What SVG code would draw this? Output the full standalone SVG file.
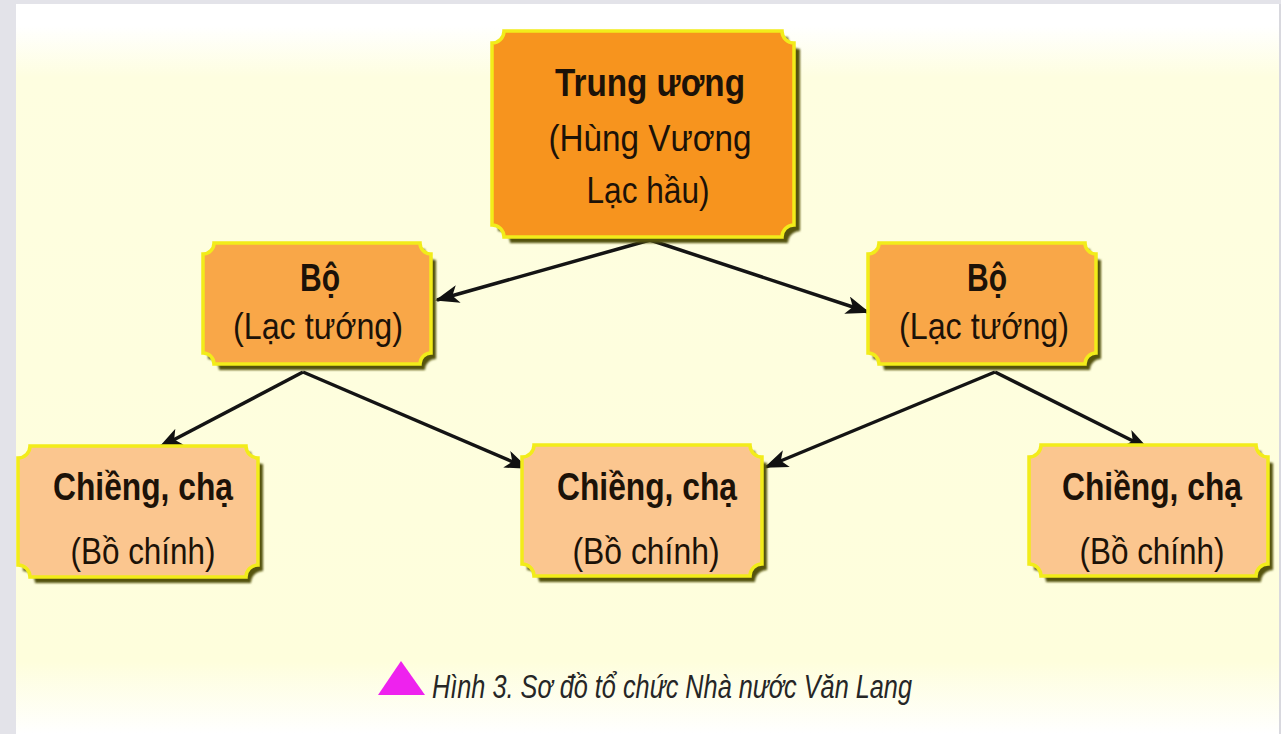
<svg xmlns="http://www.w3.org/2000/svg" width="1281" height="734" viewBox="0 0 1281 734">
<defs>
<linearGradient id="panel" x1="0" y1="0" x2="0" y2="1">
<stop offset="0" stop-color="#ffffff"/>
<stop offset="0.03" stop-color="#ffffff"/>
<stop offset="0.1" stop-color="#fefee0"/>
<stop offset="0.9" stop-color="#fefedc"/>
<stop offset="1" stop-color="#ffffff"/>
</linearGradient>
<filter id="soft" x="-5%" y="-5%" width="110%" height="110%">
<feGaussianBlur stdDeviation="1.2"/>
</filter>
<marker id="arr" markerUnits="userSpaceOnUse" markerWidth="25" markerHeight="18" refX="22" refY="9" orient="auto">
<path d="M0,0 L24,9 L0,18 L6,9 Z" fill="#111"/>
</marker>
</defs>
<style>
.shadow{fill:#55520e;filter:url(#soft)}
.frame{stroke:#f2ec1a;stroke-width:3.5}
.top{fill:#f7941e}
.mid{fill:#f9a748}
.low{fill:#fbc68f}
.t{font-family:"Liberation Sans",Arial,sans-serif;font-size:37px;fill:#1c1208;text-anchor:middle}
.b{font-weight:bold;font-size:38px}
.conn{stroke:#141414;stroke-width:3.5;fill:none;marker-end:url(#arr)}
.cap{font-family:"Liberation Sans",Arial,sans-serif;font-style:italic;font-size:34px;fill:#262626}
</style>
<rect x="0" y="0" width="1281" height="734" fill="#e3e3e9"/>
<rect x="16" y="4" width="1263" height="730" fill="url(#panel)"/>
<rect x="1279" y="4" width="2" height="730" fill="#d8d8de"/>

<g id="connectors">
<line class="conn" x1="650" y1="240" x2="437" y2="300"/>
<line class="conn" x1="650" y1="240" x2="868" y2="312"/>
<line class="conn" x1="303" y1="372" x2="160" y2="447"/>
<line class="conn" x1="303" y1="372" x2="527" y2="468"/>
<line class="conn" x1="995" y1="372" x2="766" y2="467"/>
<line class="conn" x1="995" y1="372" x2="1147" y2="448"/>
</g>

<g id="node-trung-uong">
<path class="shadow" transform="translate(6,6)" d="M504,31 H782 A12 12 0 0 0 794,43 V225 A12 12 0 0 0 782,237 H504 A12 12 0 0 0 492,225 V43 A12 12 0 0 0 504,31 Z"/>
<path class="frame top" d="M504,31 H782 A12 12 0 0 0 794,43 V225 A12 12 0 0 0 782,237 H504 A12 12 0 0 0 492,225 V43 A12 12 0 0 0 504,31 Z"/>
<text class="t b" x="650" y="96" textLength="190" lengthAdjust="spacingAndGlyphs">Trung ương</text>
<text class="t" x="650" y="151" textLength="203" lengthAdjust="spacingAndGlyphs">(Hùng Vương</text>
<text class="t" x="648" y="203" textLength="123" lengthAdjust="spacingAndGlyphs">Lạc hầu)</text>
</g>

<g id="node-bo-left">
<path class="shadow" transform="translate(5,6)" d="M214,243 H420 A11 11 0 0 0 431,254 V353 A11 11 0 0 0 420,364 H214 A11 11 0 0 0 203,353 V254 A11 11 0 0 0 214,243 Z"/>
<path class="frame mid" d="M214,243 H420 A11 11 0 0 0 431,254 V353 A11 11 0 0 0 420,364 H214 A11 11 0 0 0 203,353 V254 A11 11 0 0 0 214,243 Z"/>
<text class="t b" x="320" y="291" textLength="40" lengthAdjust="spacingAndGlyphs">Bộ</text>
<text class="t" x="318" y="339" textLength="170" lengthAdjust="spacingAndGlyphs">(Lạc tướng)</text>
</g>

<g id="node-bo-right">
<path class="shadow" transform="translate(5,6)" d="M879,243 H1085 A11 11 0 0 0 1096,254 V353 A11 11 0 0 0 1085,364 H879 A11 11 0 0 0 868,353 V254 A11 11 0 0 0 879,243 Z"/>
<path class="frame mid" d="M879,243 H1085 A11 11 0 0 0 1096,254 V353 A11 11 0 0 0 1085,364 H879 A11 11 0 0 0 868,353 V254 A11 11 0 0 0 879,243 Z"/>
<text class="t b" x="987" y="291" textLength="40" lengthAdjust="spacingAndGlyphs">Bộ</text>
<text class="t" x="984" y="339" textLength="170" lengthAdjust="spacingAndGlyphs">(Lạc tướng)</text>
</g>

<g id="node-chieng-left">
<path class="shadow" transform="translate(5,6)" d="M30,446 H246 A12 12 0 0 0 258,458 V565 A12 12 0 0 0 246,577 H30 A12 12 0 0 0 18,565 V458 A12 12 0 0 0 30,446 Z"/>
<path class="frame low" d="M30,446 H246 A12 12 0 0 0 258,458 V565 A12 12 0 0 0 246,577 H30 A12 12 0 0 0 18,565 V458 A12 12 0 0 0 30,446 Z"/>
<text class="t b" x="143" y="500" textLength="180" lengthAdjust="spacingAndGlyphs">Chiềng, chạ</text>
<text class="t" x="143" y="564" textLength="145" lengthAdjust="spacingAndGlyphs">(Bồ chính)</text>
</g>

<g id="node-chieng-mid">
<path class="shadow" transform="translate(5,6)" d="M534,445 H750 A12 12 0 0 0 762,457 V564 A12 12 0 0 0 750,576 H534 A12 12 0 0 0 522,564 V457 A12 12 0 0 0 534,445 Z"/>
<path class="frame low" d="M534,445 H750 A12 12 0 0 0 762,457 V564 A12 12 0 0 0 750,576 H534 A12 12 0 0 0 522,564 V457 A12 12 0 0 0 534,445 Z"/>
<text class="t b" x="647" y="500" textLength="180" lengthAdjust="spacingAndGlyphs">Chiềng, chạ</text>
<text class="t" x="646" y="564" textLength="147" lengthAdjust="spacingAndGlyphs">(Bồ chính)</text>
</g>

<g id="node-chieng-right">
<path class="shadow" transform="translate(5,6)" d="M1041,445 H1256 A12 12 0 0 0 1268,457 V564 A12 12 0 0 0 1256,576 H1041 A12 12 0 0 0 1029,564 V457 A12 12 0 0 0 1041,445 Z"/>
<path class="frame low" d="M1041,445 H1256 A12 12 0 0 0 1268,457 V564 A12 12 0 0 0 1256,576 H1041 A12 12 0 0 0 1029,564 V457 A12 12 0 0 0 1041,445 Z"/>
<text class="t b" x="1152" y="500" textLength="180" lengthAdjust="spacingAndGlyphs">Chiềng, chạ</text>
<text class="t" x="1152" y="564" textLength="145" lengthAdjust="spacingAndGlyphs">(Bồ chính)</text>
</g>

<g id="caption">
<polygon points="378,695 401,661 425,695" fill="#ee22ee"/>
<text class="cap" x="432" y="698" textLength="480" lengthAdjust="spacingAndGlyphs">Hình 3. Sơ đồ tổ chức Nhà nước Văn Lang</text>
</g>
</svg>
